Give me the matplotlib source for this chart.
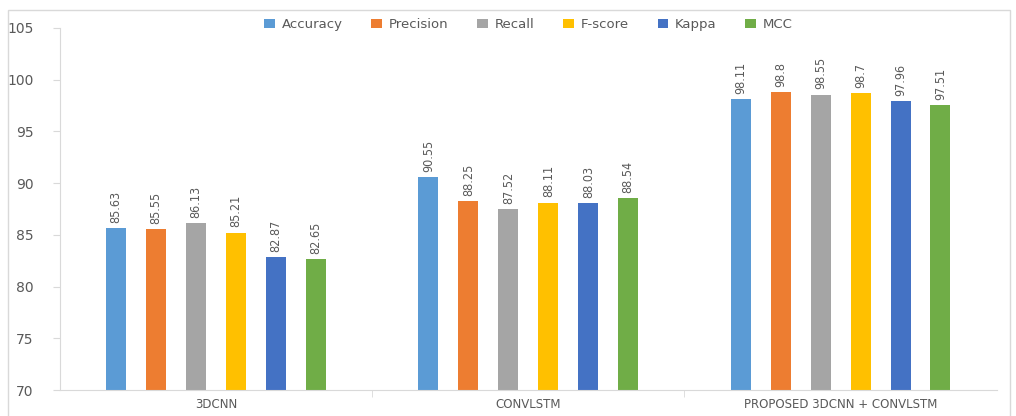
import numpy as np
import matplotlib
matplotlib.use('Agg')
import matplotlib.pyplot as plt
from matplotlib.patches import Rectangle

# 数据
models = ['3DCNN', 'CONVLSTM', 'PROPOSED 3DCNN + CONVLSTM']
metrics = ['Accuracy', 'Precision', 'Recall', 'F-score', 'Kappa', 'MCC']
accuracy = [85.63, 90.55, 98.11]
precision = [85.55, 88.25, 98.8]
recall = [86.13, 87.52, 98.55]
fscore = [85.21, 88.11, 98.7]
kappa = [82.87, 88.03, 97.96]
mcc = [82.65, 88.54, 97.51]
yticks = [70, 75, 80, 85, 90, 95, 100, 105]

series = [accuracy, precision, recall, fscore, kappa, mcc]
colors = ['#5B9BD5', '#ED7D31', '#A5A5A5', '#FFC000', '#4472C4', '#70AD47']

fig = plt.figure(figsize=(10.16, 4.16), dpi=100)
ax = fig.add_axes([0.059, 0.0625, 0.922, 0.8705])

# 外框
fig.patches.append(Rectangle((0.008, -0.01), 0.986, 0.985, transform=fig.transFigure,
                             fill=False, edgecolor='#D9D9D9', linewidth=1.0))

x = np.arange(len(models))
slot = 0.128
width = 0.064
for i, (vals, name, c) in enumerate(zip(series, metrics, colors)):
    pos = x + (i - 2.5) * slot
    bars = ax.bar(pos, np.array(vals) - 70, width, bottom=70, color=c, label=name)
    for b, v in zip(bars, vals):
        ax.text(b.get_x() + b.get_width() / 2, v + 0.5, '%g' % v, rotation=90,
                ha='center', va='bottom', fontsize=9, color='#595959',
                family='DejaVu Sans', fontstretch='condensed')

ax.set_xlim(-0.5, 2.5)
ax.set_ylim(70, 105)
ax.set_yticks(yticks)
ax.tick_params(axis='y', colors='#D9D9D9', labelcolor='#595959', labelsize=10,
               length=5, pad=14)
ax.set_xticks(x)
ax.set_xticklabels(models, fontsize=8.5, color='#595959')
ax.tick_params(axis='x', length=0, pad=6)
ax.set_xticks([0.5, 1.5], minor=True)
ax.tick_params(axis='x', which='minor', length=5, color='#D9D9D9')

for s in ['top', 'right']:
    ax.spines[s].set_visible(False)
ax.spines['left'].set_color('#D9D9D9')
ax.spines['bottom'].set_color('#D9D9D9')

ax.legend(loc='upper center', bbox_to_anchor=(0.5, 1.06), ncol=6, frameon=False,
          fontsize=9.5, handlelength=0.8, handleheight=0.6, columnspacing=2.2,
          handletextpad=0.5, labelcolor='#595959')

fig.savefig('out.png', dpi=100)
